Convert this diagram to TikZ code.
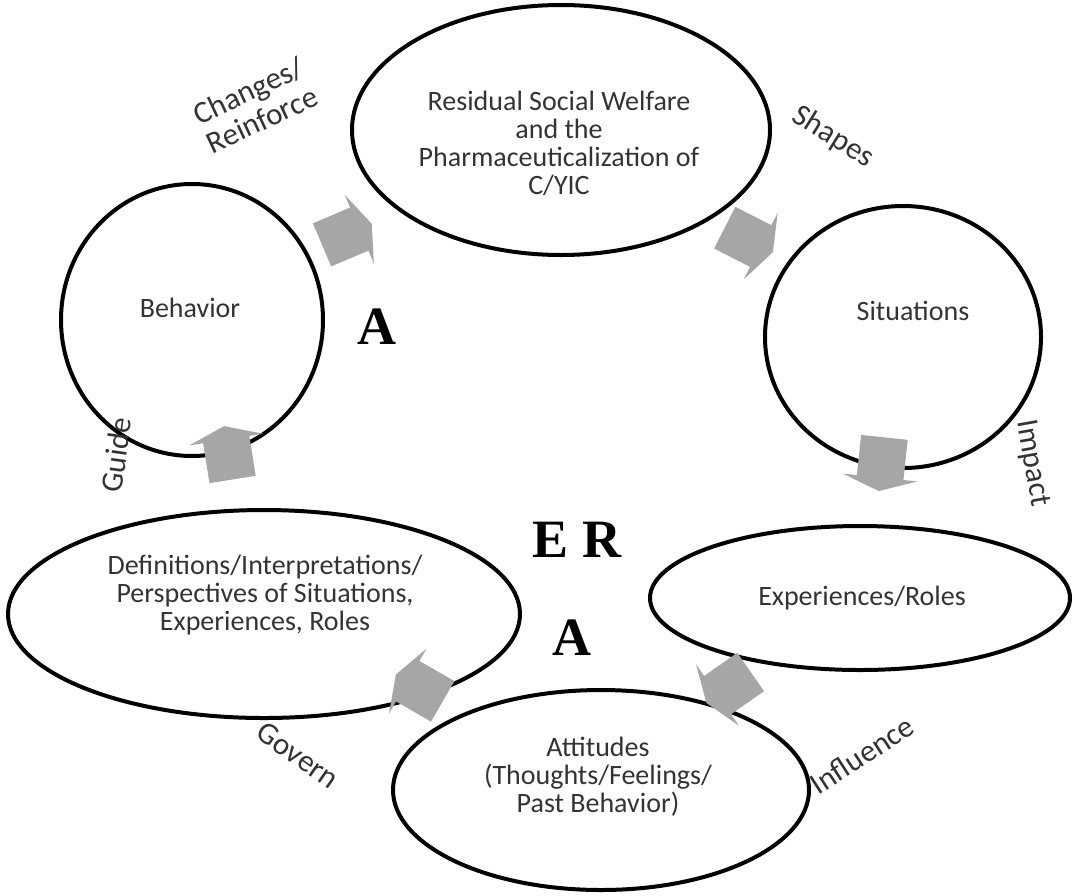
\documentclass[tikz,border=0pt]{standalone}
\usepackage{fontspec}
\setmainfont{Carlito}
\newfontfamily\serifbold{Liberation Serif}
\usetikzlibrary{shapes.geometric,shapes.arrows}

\definecolor{txtgray}{HTML}{333333}
\definecolor{arrgray}{HTML}{A6A6A6}

\tikzset{
  stage/.style={ellipse, draw=black, line width=2pt, inner sep=0pt},
  stagetext/.style={align=center, text=txtgray, font=\fontsize{14}{14}\selectfont},
  flowarrow/.style={single arrow, fill=arrgray, draw=none, inner xsep=0pt, inner ysep=11.5pt,
    minimum height=27pt, minimum width=37pt, single arrow head extend=7pt,
    single arrow tip angle=140},
  verb/.style={text=txtgray, align=center, font=\fontsize{15.5}{16}\selectfont},
  bigletter/.style={font=\serifbold\bfseries\fontsize{27}{28}\selectfont}
}

\begin{document}
\begin{tikzpicture}[x=0.5pt, y=-0.5pt]
            \useasboundingbox (0,0) rectangle (1075,895);

            % Ellipses
            \node[stage, minimum width=209pt, minimum height=125pt] (resid) at (561,130) {};
            \node[stage, minimum width=131pt, minimum height=136pt] (behav) at (192,320) {};
            \node[stage, minimum width=138pt, minimum height=131pt] (situ) at (903,337) {};
            \node[stage, minimum width=210pt, minimum height=72pt] (exper) at (860,598) {};
            \node[stage, minimum width=256pt, minimum height=104pt] (defin) at (264,614) {};
            \node[stage, minimum width=208pt, minimum height=100pt] (attit) at (601,790) {};

            % Texts in the ellipses
            \node[stagetext] (residtext) at (559,143)
              {Residual Social Welfare\\and the\\Pharmaceuticalization of\\C/YIC};
            \node[stagetext] (behavtext) at (190,308) {Behavior};
            \node[stagetext] (situtext) at (913,311) {Situations};
            \node[stagetext] (expertext) at (862,598) {Experiences/Roles};
            \node[stagetext] (defintext) at (265,595)
              {Definitions/Interpretations/\\Perspectives of Situations,\\Experiences, Roles};
            \node[stagetext] (attittext) at (598,777)
              {Attitudes\\(Thoughts/Feelings/\\Past Behavior)};

            % Arrows
            \node[flowarrow, rotate=23] (toresid) at (343,236) {};
            \node[flowarrow, rotate=-27] (tositu) at (745,238) {};
            \node[flowarrow, rotate=-96] (toexper) at (882,460) {};
            \node[flowarrow, rotate=215] (toattit) at (732,685) {};
            \node[flowarrow, rotate=150] (todefin) at (423,690) {};
            \node[flowarrow, rotate=99] (tobehav) at (229,457) {};

            % Labels
            \node[verb, rotate=25] (changes) at (255,105) {Changes/\\Reinforce};
            \node[verb, rotate=-32] (shapes) at (833,137) {Shapes};
            \node[verb, rotate=-80] (impact) at (1032,463) {Impact};
            \node[verb, rotate=-35] (govern) at (298,755) {Govern};
            \node[verb, rotate=33] (influence) at (862,755) {Influence};
            \node[verb, rotate=82] (guide) at (116,455) {Guide};

            % Letters
            \node[bigletter] (atop) at (377,327) {A};
            \node[bigletter] (er) at (577,540) {E R};
            \node[bigletter] (abot) at (572,638) {A};
\end{tikzpicture}
\end{document}
